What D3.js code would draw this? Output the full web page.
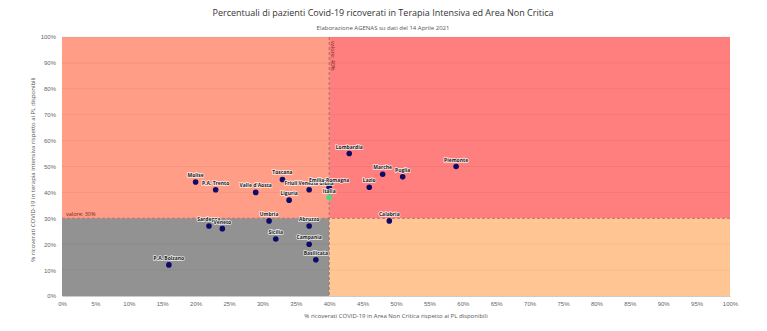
<!DOCTYPE html>
<html>
<head>
<meta charset="utf-8">
<script src="https://cdn.jsdelivr.net/npm/d3@7"></script>
<style>
  body { margin: 0; background: #fff; font-family: "Open Sans", sans-serif; }
  .tick text { fill: #666; font-size: 6px; }
  .lbl { font-size: 5px; font-weight: bold; fill: #222; paint-order: stroke; stroke: #fff; stroke-width: 1.6px; stroke-opacity: 0.75; }
</style>
</head>
<body>
<div class="canvas"></div>
<script>
const regions = ["Molise", "P.A. Trento", "Valle d'Aosta", "Toscana", "Friuli Venezia Giulia",
  "Liguria", "Emilia-Romagna", "Lombardia", "Marche", "Puglia", "Lazio", "Piemonte",
  "Calabria", "Umbria", "Sardegna", "Veneto", "Abruzzo", "Sicilia", "Campania",
  "Basilicata", "P.A. Bolzano"];
const areaNonCritica = [20, 23, 29, 33, 37, 34, 40, 43, 48, 51, 46, 59, 49, 31, 22, 24, 37, 32, 37, 38, 16];
const terapiaIntensiva = [44, 41, 40, 45, 41, 37, 42, 55, 47, 46, 42, 50, 29, 29, 27, 26, 27, 22, 20, 14, 12];
const italia = { name: "Italia", x: 40, y: 38 };
const sogliaX = 40;
const sogliaY = 30;
const xTicks = d3.range(0, 101, 5);
const yTicks = d3.range(0, 101, 10);

const width = 767, height = 331;
const margin = { top: 37, right: 37, bottom: 35, left: 62 };
const innerWidth = width - margin.left - margin.right;
const innerHeight = height - margin.top - margin.bottom;

const svg = d3.select(".canvas").append("svg")
  .attr("width", width).attr("height", height);

const g = svg.append("g").attr("transform", `translate(${margin.left}, ${margin.top})`);

const x = d3.scaleLinear().domain([0, 100]).range([0, innerWidth]);
const y = d3.scaleLinear().domain([0, 100]).range([innerHeight, 0]);

// quadrants
const quads = [
  { x0: 0, x1: sogliaX, y0: sogliaY, y1: 100, c: "#ff9d86" },
  { x0: sogliaX, x1: 100, y0: sogliaY, y1: 100, c: "#ff7f7e" },
  { x0: 0, x1: sogliaX, y0: 0, y1: sogliaY, c: "#929292" },
  { x0: sogliaX, x1: 100, y0: 0, y1: sogliaY, c: "#ffc693" }
];
g.selectAll("rect.quad").data(quads).enter().append("rect")
  .attr("class", "quad")
  .attr("x", d => x(d.x0)).attr("width", d => x(d.x1) - x(d.x0))
  .attr("y", d => y(d.y1)).attr("height", d => y(d.y0) - y(d.y1))
  .attr("fill", d => d.c);

// grid
g.selectAll("line.grid").data(yTicks.slice(1)).enter().append("line")
  .attr("class", "grid")
  .attr("x1", 0).attr("x2", innerWidth)
  .attr("y1", d => y(d)).attr("y2", d => y(d))
  .attr("stroke", "#000").attr("stroke-opacity", 0.05);

// axes
const xAxis = g.append("g").attr("transform", `translate(0, ${innerHeight})`)
  .call(d3.axisBottom(x).tickValues(xTicks).tickFormat(d => d + "%").tickSize(0).tickPadding(6));
xAxis.select(".domain").attr("stroke", "#ccc");
const yAxis = g.append("g")
  .call(d3.axisLeft(y).tickValues(yTicks).tickFormat(d => d + "%").tickSize(0).tickPadding(6));
yAxis.select(".domain").remove();

// threshold lines
g.append("line")
  .attr("x1", 0).attr("x2", innerWidth).attr("y1", y(sogliaY)).attr("y2", y(sogliaY))
  .attr("stroke", "#c07070").attr("stroke-width", 1).attr("stroke-dasharray", "3,2");
g.append("line")
  .attr("x1", x(sogliaX)).attr("x2", x(sogliaX)).attr("y1", 0).attr("y2", innerHeight)
  .attr("stroke", "#a06a6a").attr("stroke-width", 1).attr("stroke-dasharray", "3,2");
g.append("text").text("valore: " + sogliaY + "%")
  .attr("x", 4).attr("y", y(sogliaY) - 2)
  .attr("font-size", 5.5).attr("fill", "#7a1f1f");
g.append("text").text("valore: " + sogliaX + "%")
  .attr("transform", `translate(${x(sogliaX) + 2}, 4) rotate(90)`)
  .attr("font-size", 5.5).attr("fill", "#7a1f1f");

// points
const data = regions.map((r, i) => ({ name: r, x: areaNonCritica[i], y: terapiaIntensiva[i] }));

g.selectAll("circle.pt").data(data).enter().append("circle")
  .attr("class", "pt")
  .attr("cx", d => x(d.x)).attr("cy", d => y(d.y)).attr("r", 2.8)
  .attr("fill", "#0e0b68");

g.append("circle")
  .attr("cx", x(italia.x)).attr("cy", y(italia.y)).attr("r", 2.8)
  .attr("fill", "#3ddc84");

g.selectAll("text.lbl").data(data.concat([italia])).enter().append("text")
  .attr("class", "lbl")
  .attr("x", d => x(d.x)).attr("y", d => y(d.y) - 5)
  .attr("text-anchor", "middle")
  .text(d => d.name);

// titles
svg.append("text").text("Percentuali di pazienti Covid-19 ricoverati in Terapia Intensiva ed Area Non Critica")
  .attr("x", 383).attr("y", 16).attr("text-anchor", "middle")
  .attr("font-size", 9).attr("fill", "#333");
svg.append("text").text("Elaborazione AGENAS su dati del 14 Aprile 2021")
  .attr("x", 383).attr("y", 30).attr("text-anchor", "middle")
  .attr("font-size", 6).attr("fill", "#555");
svg.append("text").text("% ricoverati COVID-19 in Area Non Critica rispetto ai PL disponibili")
  .attr("x", margin.left + innerWidth / 2).attr("y", 318).attr("text-anchor", "middle")
  .attr("font-size", 6).attr("fill", "#555");
svg.append("text").text("% ricoverati COVID-19 in terapia intensiva rispetto ai PL disponibili")
  .attr("transform", `translate(35, ${margin.top + innerHeight / 2 + 3}) rotate(-90)`)
  .attr("text-anchor", "middle")
  .attr("font-size", 6).attr("fill", "#555");
</script>
</body>
</html>
